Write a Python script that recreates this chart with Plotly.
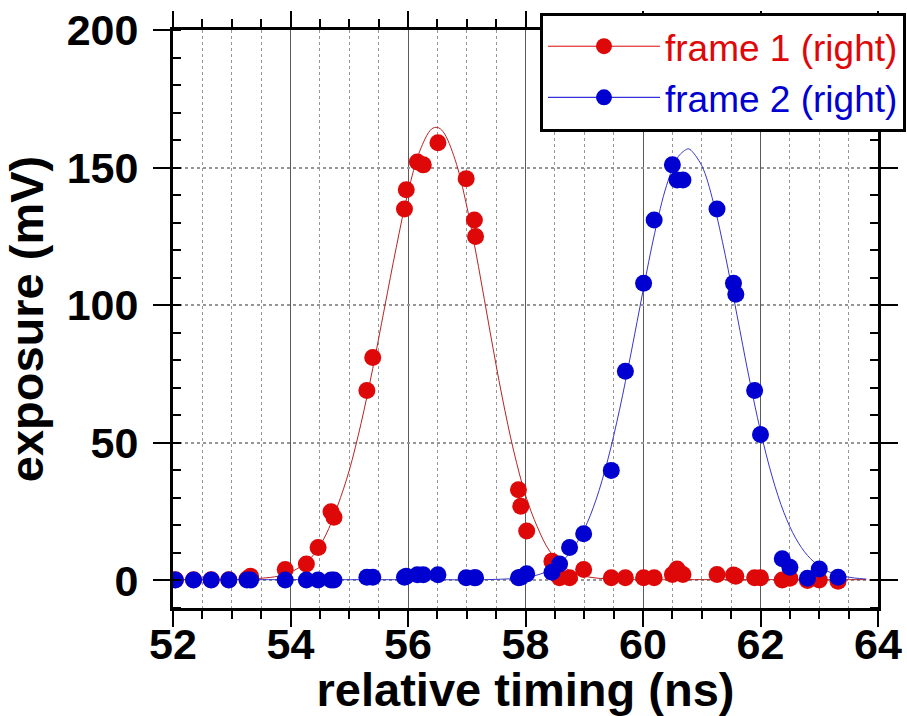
import plotly.graph_objects as go

# Measured scan: relative timing (ns) and exposure (mV) for both frames
timing_ns = [52.04, 52.35, 52.65, 52.95, 53.26, 53.32, 53.91, 54.27, 54.47, 54.69,
             54.74, 55.30, 55.40, 55.94, 55.97, 56.16, 56.26, 56.51, 56.99, 57.13,
             57.15, 57.88, 57.92, 58.02, 58.45, 58.58, 58.75, 58.99, 59.46, 59.70,
             60.01, 60.19, 60.50, 60.58, 60.68, 61.26, 61.54, 61.58, 61.90, 62.00,
             62.37, 62.50, 62.80, 63.00, 63.32]

frame1_mv = [0.3, 0.3, 0.3, 0.3, 0.5, 1.5, 4.0, 6.0, 12.0, 25.0,
             23.0, 69.0, 81.0, 135.0, 142.0, 152.0, 151.0, 159.0, 146.0, 131.0,
             125.0, 33.0, 27.0, 18.0, 7.0, 1.0, 1.0, 4.0, 1.0, 1.0,
             1.0, 1.0, 2.2, 4.2, 2.2, 2.2, 2.0, 1.5, 1.0, 1.0,
             0.2, 0.8, 0.0, 0.2, -0.3]

frame2_mv = [0.2, 0.2, 0.2, 0.2, 0.2, 0.2, 0.2, 0.2, 0.2, 0.2,
             0.2, 1.2, 1.2, 1.2, 1.5, 2.1, 2.1, 2.1, 1.0, 1.0,
             1.0, 1.0, 1.2, 2.4, 3.0, 6.0, 12.0, 17.0, 40.0, 76.0,
             108.0, 131.0, 151.0, 145.5, 145.5, 135.0, 108.0, 104.0, 69.0, 53.0,
             7.9, 4.8, 0.8, 4.2, 1.2]

# Fitted pulse profiles
fit1_t = [52.0, 53.0, 53.5, 53.8, 54.0, 54.2, 54.4, 54.6, 54.8, 55.0,
          55.2, 55.4, 55.6, 55.8, 56.0, 56.2, 56.4, 56.5, 56.6, 56.8,
          57.0, 57.2, 57.4, 57.6, 57.8, 58.0, 58.2, 58.4, 58.6, 58.8,
          59.0, 59.2, 59.5, 60.0, 61.0, 62.0, 63.0, 63.8]
fit1_mv = [0.3, 0.3, 0.8, 1.6, 3.0, 5.5, 9.5, 16.5, 27.0, 40.0,
           57.0, 77.0, 99.0, 121.0, 141.0, 156.0, 164.0, 164.6, 163.0, 153.0,
           136.0, 114.0, 90.0, 67.0, 47.0, 31.0, 19.5, 11.0, 6.0, 3.0,
           1.6, 0.9, 0.5, 0.3, 0.3, 0.3, 0.3, 0.3]

fit2_t = [52.0, 54.0, 56.0, 57.5, 58.0, 58.2, 58.4, 58.6, 58.8, 59.0,
          59.2, 59.4, 59.6, 59.8, 60.0, 60.2, 60.4, 60.6, 60.76, 60.8,
          61.0, 61.2, 61.4, 61.6, 61.8, 62.0, 62.2, 62.4, 62.6, 62.8,
          63.0, 63.2, 63.4, 63.6, 63.8]
fit2_mv = [0.3, 0.3, 0.3, 0.4, 1.1, 2.0, 3.6, 6.5, 11.3, 18.6,
           29.3, 43.8, 62.0, 83.0, 105.2, 126.3, 143.4, 154.0, 156.8, 156.6,
           150.7, 137.2, 118.2, 96.4, 74.3, 54.3, 37.6, 24.6, 15.3, 9.1,
           5.2, 2.8, 1.6, 0.9, 0.5]

RED = "rgb(222,8,8)"
BLUE = "rgb(0,0,208)"
RED_FIT = "rgb(185,35,35)"
BLUE_FIT = "rgb(55,55,200)"

FAMILY = "Liberation Sans, Arial, sans-serif"
TICK_FONT = dict(family=FAMILY, size=43, color="black", weight="bold")
TITLE_FONT = dict(family=FAMILY, size=47, color="black", weight="bold")

fig = go.Figure()

fig.add_trace(go.Scatter(x=fit1_t, y=fit1_mv, mode="lines", line=dict(color=RED_FIT, width=1, shape="spline"),
                         showlegend=False, hoverinfo="skip"))
fig.add_trace(go.Scatter(x=fit2_t, y=fit2_mv, mode="lines", line=dict(color=BLUE_FIT, width=1, shape="spline"),
                         showlegend=False, hoverinfo="skip"))
fig.add_trace(go.Scatter(x=timing_ns, y=frame1_mv, mode="markers",
                         marker=dict(color=RED, size=17, line=dict(width=0)), showlegend=False))
fig.add_trace(go.Scatter(x=timing_ns, y=frame2_mv, mode="markers",
                         marker=dict(color=BLUE, size=17, line=dict(width=0)), showlegend=False))

# Legend entries (line + marker symbol)
fig.add_trace(go.Scatter(x=[None], y=[None], mode="lines+markers",
                         name="<span style='color:rgb(222,8,8)'>frame 1 (right)</span>",
                         line=dict(color=RED, width=1), marker=dict(color=RED, size=17)))
fig.add_trace(go.Scatter(x=[None], y=[None], mode="lines+markers",
                         name="<span style='color:rgb(0,0,208)'>frame 2 (right)</span>",
                         line=dict(color=BLUE, width=1), marker=dict(color=BLUE, size=17)))

fig.update_layout(
    width=907, height=716,
    margin=dict(l=173, r=29, t=30, b=108, autoexpand=False),
    plot_bgcolor="white", paper_bgcolor="white",
    font=dict(family=FAMILY, color="black"),
    xaxis=dict(
        range=[52, 64], tick0=52, dtick=2, showline=True, linecolor="black", linewidth=3,
        mirror="ticks", ticks="outside", ticklen=16, tickwidth=1.5, tickcolor="black",
        showgrid=True, gridcolor="rgb(90,90,90)", gridwidth=1, zeroline=False,
        tickfont=TICK_FONT, ticklabelstandoff=-20,
        minor=dict(dtick=0.5, tick0=52, ticks="outside", ticklen=8, tickwidth=1.5, tickcolor="black",
                   showgrid=True, gridcolor="rgb(150,150,150)", griddash="dot", gridwidth=1),
        title=dict(text="relative timing (ns)", font=TITLE_FONT, standoff=8),
        automargin=False,
    ),
    yaxis=dict(
        range=[-10, 200], tick0=0, dtick=50, showline=True, linecolor="black", linewidth=3,
        mirror="ticks", ticks="outside", ticklen=17, tickwidth=1.5, tickcolor="black",
        showgrid=True, gridcolor="rgb(150,150,150)", griddash="dot", gridwidth=2, zeroline=False,
        tickfont=TICK_FONT, ticklabelstandoff=6,
        minor=dict(dtick=10, tick0=0, ticks="inside", ticklen=8, tickwidth=1.5, tickcolor="black", showgrid=False),
        title=dict(text="exposure (mV)", font=TITLE_FONT, standoff=10),
        automargin=False,
    ),
    yaxis2=dict(
        overlaying="y", range=[-10, 200], tick0=0, dtick=50, showline=False, showgrid=False,
        zeroline=False, showticklabels=False, ticks="", mirror="ticks",
        minor=dict(dtick=10, tick0=0, ticks="outside", ticklen=8, tickwidth=1.5, tickcolor="black", showgrid=False),
    ),
    legend=dict(
        x=1.0397, xanchor="right", y=1.03, yanchor="top",
        bgcolor="white", bordercolor="black", borderwidth=3,
        font=dict(family=FAMILY, size=37),
        itemwidth=112, tracegroupgap=0,
    ),
)

fig.write_html("out.html")
